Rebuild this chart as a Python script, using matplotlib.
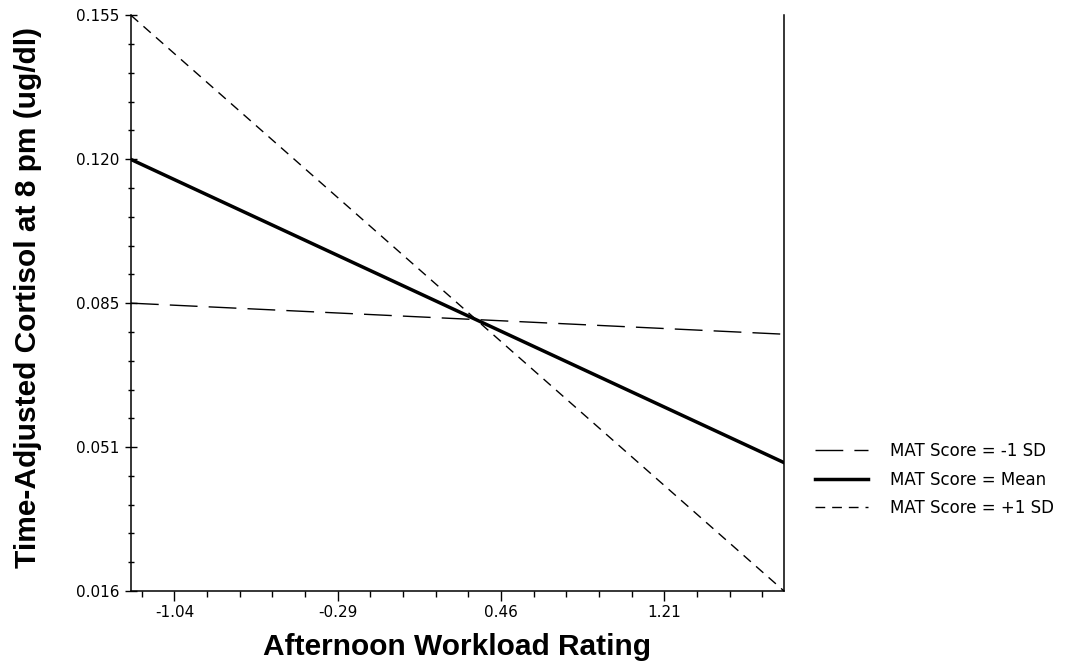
import numpy as np
import matplotlib
matplotlib.use("Agg")
import matplotlib.pyplot as plt

# simple slopes: cortisol vs workload at three MAT levels
workload_range = [-1.24, 1.76]
cortisol_low_mat = [0.0855, 0.0780]    # MAT = -1 SD
cortisol_mean_mat = [0.1202, 0.0470]   # MAT = mean
cortisol_high_mat = [0.155, 0.016]     # MAT = +1 SD

x_ticks = [-1.04, -0.29, 0.46, 1.21]
x_ticklabels = ["-1.04", "-0.29", "0.46", "1.21"]
y_limits = [0.016, 0.155]
y_ticklabels = ["0.016", "0.051", "0.085", "0.120", "0.155"]

label_font = "Liberation Sans"
tick_font = "DejaVu Sans"

fig = plt.figure(figsize=(10.69, 6.63), dpi=100)
ax = fig.add_axes([0.1225, 0.1086, 0.6109, 0.8683])

ax.plot(workload_range, cortisol_low_mat, color="black", lw=1.0,
        dashes=(20, 8), label="MAT Score = -1 SD")
ax.plot(workload_range, cortisol_mean_mat, color="black", lw=2.5,
        label="MAT Score = Mean")
ax.plot(workload_range, cortisol_high_mat, color="black", lw=1.0,
        dashes=(7, 5), label="MAT Score = +1 SD")

ax.set_xlim(workload_range)
ax.set_ylim(y_limits)

ax.set_xticks(x_ticks)
ax.set_xticklabels(x_ticklabels, family=tick_font, fontsize=11)
ax.set_xticks(np.arange(-1.19, 1.76, 0.15), minor=True)
ax.set_yticks(np.linspace(y_limits[0], y_limits[1], 5))
ax.set_yticklabels(y_ticklabels, family=tick_font, fontsize=11)
ax.set_yticks(np.linspace(y_limits[0], y_limits[1], 21), minor=True)

ax.tick_params(axis="x", which="major", direction="out", length=7, width=1, pad=3)
ax.tick_params(axis="x", which="minor", direction="out", length=4, width=1)
ax.tick_params(axis="y", which="major", direction="inout", length=8, width=1, pad=4)
ax.tick_params(axis="y", which="minor", direction="inout", length=4, width=1)

for side in ["left", "bottom", "right"]:
    ax.spines[side].set_linewidth(1.1)
ax.spines["top"].set_visible(False)

ax.set_xlabel("Afternoon Workload Rating", family=label_font,
              fontweight="bold", fontsize=21.5)
ax.xaxis.set_label_coords(0.5, -0.073)
ax.set_ylabel("Time-Adjusted Cortisol at 8 pm (ug/dl)", family=label_font,
              fontweight="bold", fontsize=21.5)
ax.yaxis.set_label_coords(-0.136, 0.51)

leg = ax.legend(loc="upper left", bbox_to_anchor=(0.7624, 0.333),
                bbox_transform=fig.transFigure, frameon=False,
                prop={"family": tick_font, "size": 12},
                handlelength=3.2, handletextpad=1.3, labelspacing=0.62,
                borderpad=0, borderaxespad=0)

fig.savefig("out.png", dpi=100, facecolor="white")
